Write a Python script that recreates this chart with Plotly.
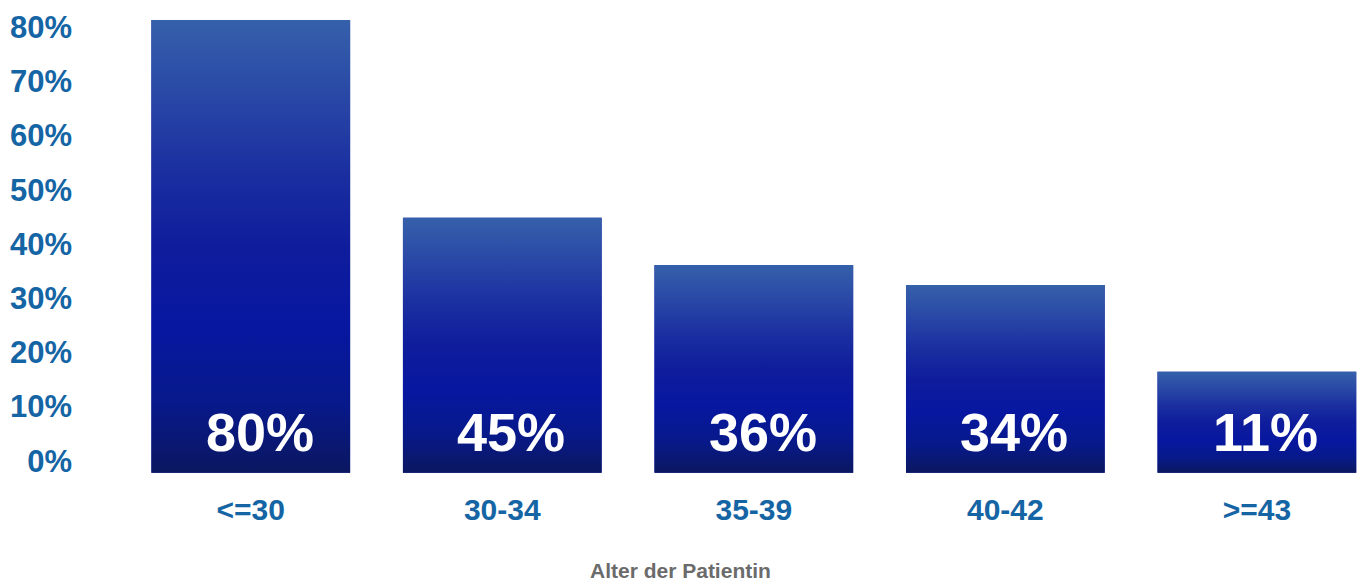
import plotly.graph_objects as go

# ---- data ----
categories = ["<=30", "30-34", "35-39", "40-42", ">=43"]
bar_heights = [81.3, 44.8, 36.1, 32.4, 16.4]   # visual bar heights (%) as drawn
label_values = [80, 45, 36, 34, 11]             # printed values (%)
y_ticks = [0, 10, 20, 30, 40, 50, 60, 70, 80]
axis_title = "Alter der Patientin"

# ---- style ----
BAR_W = 0.79
BASE = -2.2
TICK_BLUE = "#1565a5"
FONT = "Liberation Sans, Arial, sans-serif"
gradient = [
    [0.0, "#0b1760"],
    [0.15, "#07198a"],
    [0.32, "#0717a0"],
    [0.5, "#0f1d9c"],
    [0.66, "#1a2ea0"],
    [0.82, "#2846a6"],
    [1.0, "#3560aa"],
]

fig = go.Figure()

# base bar trace (data marks)
fig.add_trace(go.Bar(
    x=list(range(len(categories))),
    y=[h - BASE for h in bar_heights],
    base=BASE,
    width=BAR_W,
    marker=dict(color="#0f1d9c", line=dict(width=0)),
    hoverinfo="skip",
    showlegend=False,
))

# gradient overlay for each bar, built from the same values
for i, h in enumerate(bar_heights):
    x0, x1 = i - BAR_W / 2, i + BAR_W / 2
    fig.add_trace(go.Scatter(
        x=[x0, x1, x1, x0, x0],
        y=[BASE, BASE, h, h, BASE],
        mode="lines",
        line=dict(width=0, color="rgba(0,0,0,0)"),
        fill="toself",
        fillgradient=dict(type="vertical", colorscale=gradient),
        hoverinfo="skip",
        showlegend=False,
    ))

# value labels inside the bars
for i, v in enumerate(label_values):
    fig.add_annotation(
        x=i, y=5.3, xref="x", yref="y",
        text=f"{v}%", showarrow=False, xshift=9,
        font=dict(family=FONT, size=54, color="white", weight="bold"),
    )

# axis title (centred on the whole picture, as in the original)
fig.add_annotation(
    x=0.4494, y=-0.195, xref="paper", yref="paper",
    xanchor="center", yanchor="middle",
    text=axis_title, showarrow=False,
    font=dict(family=FONT, size=21, color="#6b6b6b", weight="bold"),
)

fig.update_layout(
    width=1360, height=581,
    margin=dict(l=125, r=0, t=0, b=104),
    paper_bgcolor="white", plot_bgcolor="white",
    showlegend=False,
    font=dict(family=FONT),
    xaxis=dict(
        range=[-0.5, 4.41],
        tickmode="array",
        tickvals=list(range(len(categories))),
        ticktext=categories,
        tickfont=dict(family=FONT, size=30, color=TICK_BLUE, weight="bold"),
        showgrid=False, zeroline=False, showline=False, ticks="",
        ticklabelstandoff=12,
        automargin=False,
        fixedrange=True,
    ),
    yaxis=dict(
        range=[-3, 84.98],
        tickmode="array",
        tickvals=y_ticks,
        ticktext=[f"{t}%" for t in y_ticks],
        tickfont=dict(family=FONT, size=31, color=TICK_BLUE, weight="bold"),
        showgrid=False, zeroline=False, showline=False, ticks="",
        ticklabelstandoff=52,
        automargin=False,
        fixedrange=True,
    ),
)

fig.write_html(
    "out.html",
    config={"displayModeBar": False},
    post_script="document.body.style.margin='0';document.body.style.overflow='hidden';",
)
